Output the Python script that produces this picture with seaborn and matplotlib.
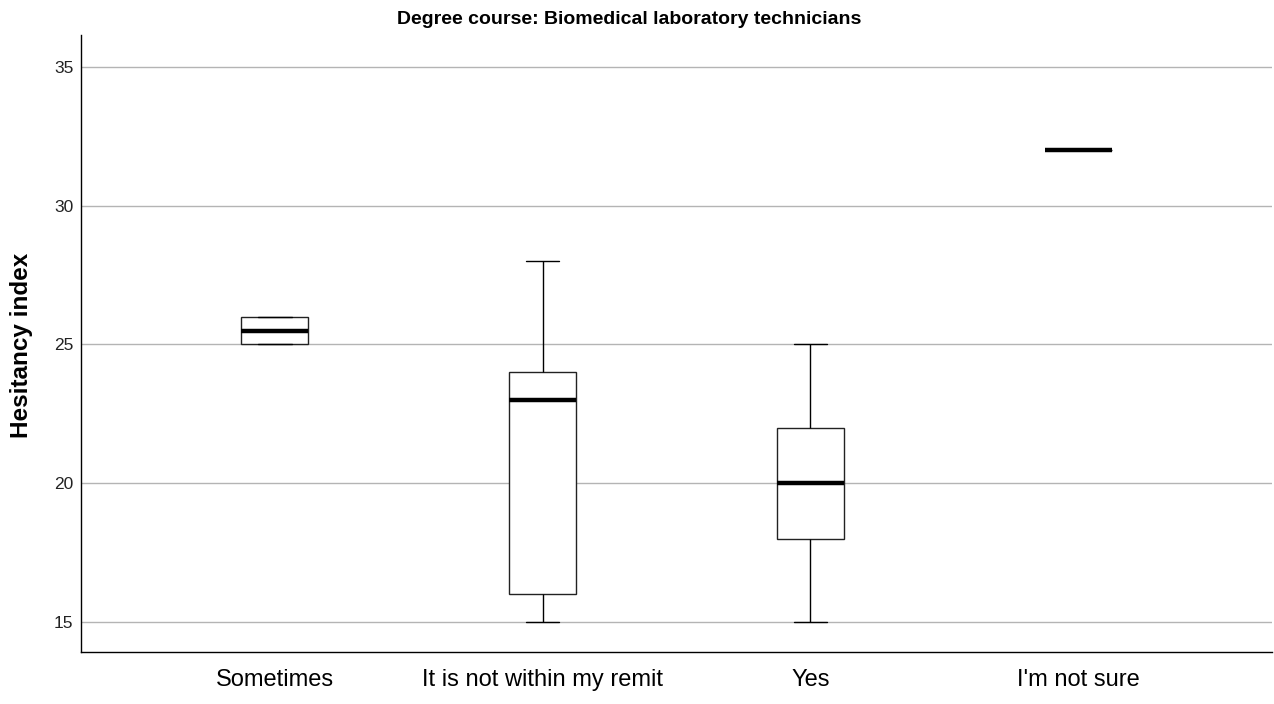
import matplotlib
matplotlib.use("Agg")
import matplotlib.pyplot as plt
import seaborn as sns
import pandas as pd

categories = ["Sometimes", "It is not within my remit", "Yes", "I'm not sure"]
sometimes_values = [25, 25, 26, 26]
remit_values = [15, 16, 23, 24, 28]
yes_values = [15, 18, 20, 22, 25]
not_sure_values = [32]
y_ticks = [15, 20, 25, 30, 35]

groups = [sometimes_values, remit_values, yes_values, not_sure_values]
df = pd.DataFrame({
    "category": [c for c, vals in zip(categories, groups) for _ in vals],
    "value": [v for vals in groups for v in vals],
})

sns.set_style("white")
plt.rcParams["font.family"] = ["Liberation Sans", "DejaVu Sans"]
plt.rcParams["text.color"] = "black"

fig = plt.figure(figsize=(12.74, 7.04), dpi=100)
ax = fig.add_axes([81 / 1274, 1 - 652 / 704, (1272 - 81) / 1274, (652 - 35) / 704])

sns.boxplot(data=df, x="category", y="value", order=categories, ax=ax,
            color="white", linecolor="black", linewidth=1.0, width=0.25,
            whis=1.5, showfliers=False,
            medianprops=dict(linewidth=3.2, color="black"),
            boxprops=dict(edgecolor="#222222"),
            zorder=3)

ax.set_xlim(-0.724, 3.724)
ax.set_ylim(13.92, 36.15)
ax.set_yticks(y_ticks)
ax.yaxis.grid(True, color="#b4b4b4", linewidth=1.0)
ax.set_axisbelow(True)
for s in ["top", "right"]:
    ax.spines[s].set_visible(False)
for s in ["left", "bottom"]:
    ax.spines[s].set_color("black")
    ax.spines[s].set_linewidth(1.0)
ax.tick_params(axis="y", length=0, labelsize=12.5, pad=5.5, labelcolor="#222222")
ax.tick_params(axis="x", length=0, labelsize=17, pad=12, labelcolor="black")
ax.set_xlabel("")
ax.set_ylabel("")
fig.text(22 / 1274, 1 - 345 / 704, "Hesitancy index", rotation=90,
         ha="center", va="center", fontsize=17.5, fontweight="bold", color="black")
fig.text(629 / 1274, 1 - 20 / 704, "Degree course: Biomedical laboratory technicians",
         ha="center", va="center", fontsize=14, fontweight="bold", color="black")

fig.savefig("out.png", dpi=100)
